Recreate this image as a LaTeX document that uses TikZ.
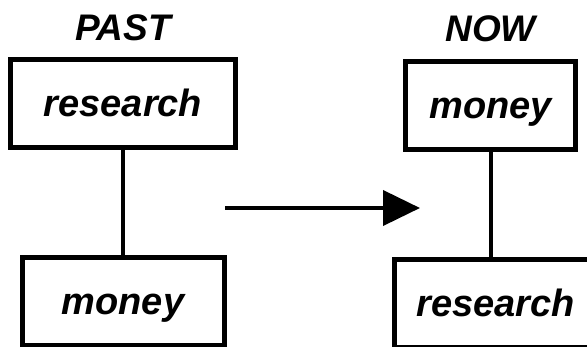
\documentclass[tikz,border=0pt]{standalone}
\usepackage{fontspec}
\setmainfont{Liberation Sans}
\usepackage{tikz}
\usetikzlibrary{arrows.meta, positioning}

\begin{document}
\begin{tikzpicture}[
        x=1pt, y=-1pt,
        node distance=105pt,
        box/.style={rectangle, draw=black, line width=5pt, fill=white, minimum height=88pt, inner sep=0pt, text height=30pt, text depth=4pt, font=\fontsize{38}{40}\selectfont\bfseries\itshape},
        heading/.style={inner sep=0pt, font=\fontsize{37}{40}\selectfont\bfseries\itshape},
        link/.style={line width=4pt, black},
        arrow/.style={-{Triangle[length=37pt, width=35pt]}, line width=4pt, black}
    ]
    \useasboundingbox (0,0) rectangle (587,347);

    \node[box, minimum width=225pt] (pastTop) at (123,103.5) {research};
    \node[box, minimum width=202pt, below=of pastTop] (pastBottom) {money};
    \node[heading, above=16pt of pastTop] (pastLabel) {PAST};

    \node[box, minimum width=170pt] (nowTop) at (490.5,106) {money};
    \node[box, minimum width=202pt, below=of nowTop, xshift=5pt] (nowBottom) {research};
    \node[heading, above=17pt of nowTop] (nowLabel) {NOW};

    \coordinate (arrowStart) at (225,208);
    \coordinate (arrowEnd) at (420,208);

    \draw[link] (pastTop.south) -- (pastTop.south |- pastBottom.north);
    \draw[link] (nowTop.south) -- (nowTop.south |- nowBottom.north);
    \draw[arrow] (arrowStart) -- (arrowEnd);

\end{tikzpicture}
\end{document}
